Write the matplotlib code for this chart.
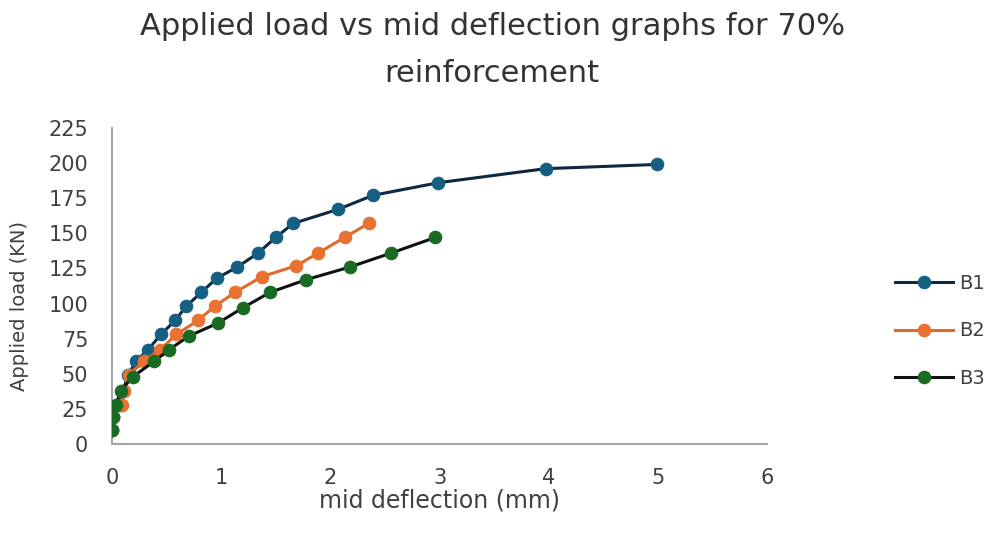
import matplotlib.pyplot as plt

# mid-span deflection (mm) and applied load (kN) for each beam
b1_defl = [0.0, 0.01, 0.07, 0.10, 0.15, 0.22, 0.33, 0.45, 0.58, 0.68, 0.82, 0.96,
           1.15, 1.34, 1.50, 1.66, 2.07, 2.39, 2.99, 3.97, 4.99]
b1_load = [10, 19, 28, 38, 49, 59, 67, 78, 88, 98, 108, 118,
           126, 136, 147, 157, 167, 177, 186, 196, 199]

b2_defl = [0.0, 0.01, 0.09, 0.11, 0.16, 0.29, 0.44, 0.59, 0.79, 0.94, 1.13, 1.37,
           1.69, 1.89, 2.13, 2.35]
b2_load = [10, 19, 28, 38, 49, 59, 67, 78, 88, 98, 108, 119,
           127, 136, 147, 157]

b3_defl = [0.0, 0.006, 0.037, 0.08, 0.195, 0.39, 0.52, 0.71, 0.97, 1.20, 1.45, 1.78,
           2.18, 2.56, 2.96]
b3_load = [10, 19, 28, 38, 48, 59, 67, 77, 86, 97, 108, 117,
           126, 136, 147]

x_ticks = [0, 1, 2, 3, 4, 5, 6]
y_ticks = [0, 25, 50, 75, 100, 125, 150, 175, 200, 225]

plt.rcParams["font.family"] = ["DejaVu Sans"]
text_color = "#404040"

fig = plt.figure(figsize=(9.9, 5.33), dpi=100)
ax = fig.add_axes([0.113, 0.167, 0.662, 0.593])

series = [
    ("B1", b1_defl, b1_load, "#0E2841", "#156082"),
    ("B2", b2_defl, b2_load, "#E06A28", "#E97132"),
    ("B3", b3_defl, b3_load, "#111111", "#196B24"),
]
for name, xs, ys, line_c, mark_c in series:
    ax.plot(xs, ys, color=line_c, linewidth=2.2, marker="o", markersize=9,
            markerfacecolor=mark_c, markeredgecolor=mark_c, markeredgewidth=0.8,
            label=name, zorder=3)

ax.set_xlim(0, 6)
ax.set_ylim(0, 225)
ax.set_xticks(x_ticks)
ax.set_yticks(y_ticks)
ax.tick_params(length=0, labelsize=15, colors=text_color, pad=17)
for side in ["top", "right"]:
    ax.spines[side].set_visible(False)
for side in ["left", "bottom"]:
    ax.spines[side].set_color("#a6a6a6")
    ax.spines[side].set_linewidth(1.5)

ax.set_xlabel("mid deflection (mm)", fontsize=17, color=text_color)
ax.xaxis.set_label_coords(0.5, -0.142)
ax.set_ylabel("Applied load (KN)", fontsize=14, color=text_color)
ax.yaxis.set_label_coords(-0.126, 0.437)

fig.text(0.497, 0.977, "Applied load vs mid deflection graphs for 70%\nreinforcement",
         ha="center", va="top", fontsize=22, color="#333333", linespacing=1.75)

fig.legend(loc="center left", bbox_to_anchor=(0.886, 0.379), frameon=False,
           fontsize=14, labelcolor=text_color, handlelength=3.0,
           labelspacing=1.45, handletextpad=0.3)

fig.savefig("out.png", dpi=100)
